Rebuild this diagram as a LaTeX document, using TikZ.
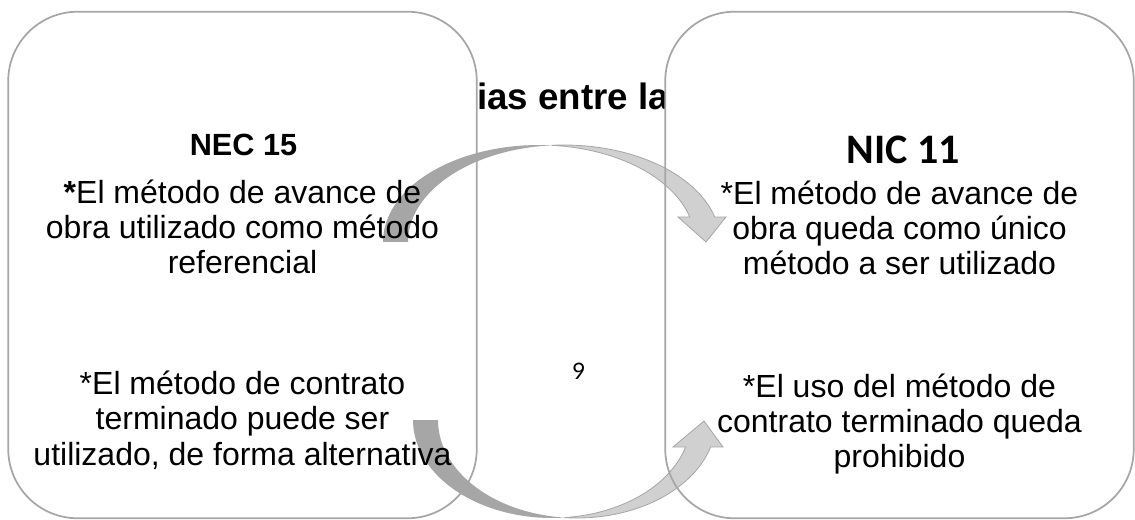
\documentclass[tikz,border=0pt]{standalone}
\usepackage{fontspec}
\setmainfont{Liberation Sans}
\newfontfamily\calibrifont{Carlito}
\newfontfamily\pagefont{Lato}
\definecolor{boxgray}{HTML}{A6A6A6}
\definecolor{arrowdark}{HTML}{A6A6A6}
\definecolor{arrowlight}{HTML}{D0D0D0}

\begin{document}
\begin{tikzpicture}[x=0.75pt,y=-0.75pt,
  panel/.style={fill=white, rounded corners=52pt, minimum width=351pt, minimum height=379.5pt, inner sep=0pt},
  border/.style={draw=boxgray, line width=1.3pt, rounded corners=52pt},
  bodytext/.style={align=center, inner sep=0pt, font=\fontsize{24}{26.5}\selectfont},
  headtext/.style={inner sep=0pt, font=\bfseries\fontsize{23}{27}\selectfont}]
\useasboundingbox (0,0) rectangle (1135,520);

% title, partly hidden by the panels
\node[anchor=base west, inner sep=0pt, font=\bfseries\fontsize{27.5}{32}\selectfont] (title) at (477,110) {ias entre la};

\node[panel] (lbox) at (242.5,265) {};
\node[panel] (rbox) at (899.5,265) {};

% upper curved arrow
\fill[arrowdark] plot[domain=-180:-85.4, samples=40] ({539+156*cos(\x)}, {242+97*sin(\x)})
  -- plot[domain=-94.6:-180, samples=40] ({564+156*cos(\x)}, {242+97*sin(\x)}) -- cycle;
\filldraw[fill=arrowlight, draw=boxgray, line width=0.6pt]
  plot[domain=-94.6:-14.93, samples=40] ({564+156*cos(\x)}, {242+97*sin(\x)})
  -- (726,217) -- (706,242) -- (678,217)
  -- plot[domain=-14.93:-85.4, samples=40] ({539+156*cos(\x)}, {242+97*sin(\x)}) -- cycle;

% lower curved arrow
\fill[arrowdark] plot[domain=180:84.84, samples=40] ({552+139*cos(\x)}, {420+98*sin(\x)})
  -- plot[domain=95.16:180, samples=40] ({577+139*cos(\x)}, {420+98*sin(\x)}) -- cycle;
\filldraw[fill=arrowlight, draw=boxgray, line width=0.6pt]
  plot[domain=95.16:15.99, samples=40] ({577+139*cos(\x)}, {420+98*sin(\x)})
  -- (723,447) -- (704,421) -- (673,447)
  -- plot[domain=15.99:84.84, samples=40] ({552+139*cos(\x)}, {420+98*sin(\x)}) -- cycle;

\draw[border] (lbox.south west) rectangle (lbox.north east);
\draw[border] (rbox.south west) rectangle (rbox.north east);

% texts
\node[headtext] (nec) at (243.5,145) {NEC 15};
\node[bodytext] (lfirst) at (242.5,227) {\textbf{*}El método de avance de\\obra utilizado como método\\referencial};
\node[bodytext] (lsecond) at (242.5,420) {*El método de contrato\\terminado puede ser\\utilizado, de forma alternativa};

\node[inner sep=0pt, font=\calibrifont\bfseries\fontsize{31.5}{36}\selectfont] (nic) at (903,150) {NIC 11};
\node[bodytext] (rfirst) at (899.5,228) {*El método de avance de\\obra queda como único\\método a ser utilizado};
\node[bodytext] (rsecond) at (899.5,424) {*El uso del método de\\contrato terminado queda\\prohibido};

\node[inner sep=0pt, font=\pagefont\fontsize{17}{20}\selectfont] (pagenum) at (579,371) {9};
\end{tikzpicture}
\end{document}
